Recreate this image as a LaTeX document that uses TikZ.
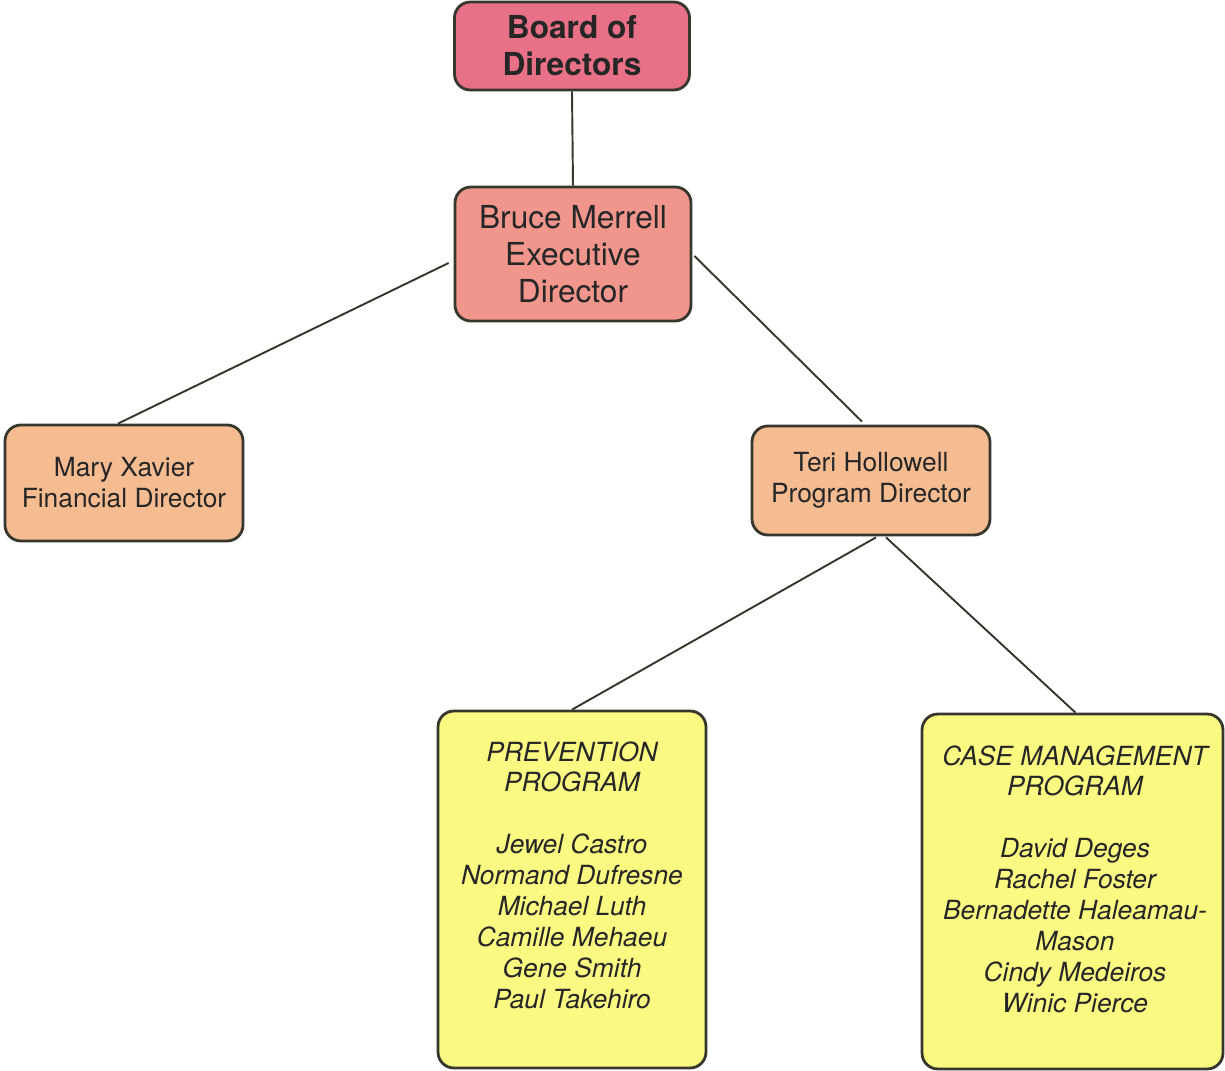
\documentclass[tikz,border=0pt]{standalone}
\usepackage{fontspec}
\setmainfont{TeX Gyre Heros}
\usetikzlibrary{calc}
\definecolor{boardc}{RGB}{232,112,135}
\definecolor{execc}{RGB}{240,150,140}
\definecolor{dirc}{RGB}{245,187,145}
\definecolor{progc}{RGB}{250,250,130}
\definecolor{edgec}{RGB}{55,55,45}
\tikzset{
  box/.style={draw=edgec, line width=1.6pt, rounded corners=9pt, inner sep=0pt, align=center, text=black!85},
  bigtext/.style={font=\fontsize{18}{21}\selectfont},
  midtext/.style={font=\fontsize{15}{17.6}\selectfont},
  progtext/.style={font=\fontsize{15}{17.6}\selectfont\itshape, align=center, inner sep=0pt, text=black!85},
  link/.style={draw=edgec, line width=1.1pt}
}
\begin{document}
\begin{tikzpicture}[x={(0.02cm,0)}, y={(0,-0.02cm)}]
\useasboundingbox (0,0) rectangle (1225,1071);
\node[box, bigtext, fill=boardc, minimum width=4.7cm, minimum height=1.76cm] (board) at (572,46) {\textbf{Board of}\\\textbf{Directors}};
\node[box, bigtext, fill=execc, minimum width=4.72cm, minimum height=2.68cm] (bruce) at (573,254) {Bruce Merrell\\Executive\\Director};
\node[box, midtext, fill=dirc, minimum width=4.76cm, minimum height=2.32cm] (mary) at (124,483) {Mary Xavier\\Financial Director};
\node[box, midtext, fill=dirc, minimum width=4.76cm, minimum height=2.18cm] (teri) at (871,480.5) {\raisebox{-0.16cm}{\begin{tabular}{@{}c@{}}Teri Hollowell\\Program Director\end{tabular}}};
\node[box, fill=progc, minimum width=5.36cm, minimum height=7.14cm] (prev) at (572,889.5) {};
\node[box, fill=progc, minimum width=6.02cm, minimum height=7.1cm] (case) at (1072.5,891.5) {};
\node[progtext, anchor=north] (prevtext) at (572,741) {PREVENTION\\PROGRAM\\[17.6pt]Jewel Castro\\Normand Dufresne\\Michael Luth\\Camille Mehaeu\\Gene Smith\\Paul Takehiro};
\node[progtext, anchor=north] (casetext) at (1075,745) {CASE MANAGEMENT\\PROGRAM\\[17.6pt]David Deges\\Rachel Foster\\Bernadette Haleamau-\\Mason\\Cindy Medeiros\\Winic Pierce};
\draw[link] (board.south) -- (bruce.north);
\draw[link] ($(bruce.west)+(-5,9)$) -- ($(mary.north)+(-6,0)$);
\draw[link] ($(bruce.east)+(2,2)$) -- ($(teri.north)+(-9,-3)$);
\draw[link] ($(teri.south)+(5,1)$) -- (prev.north);
\draw[link] ($(teri.south)+(15,1)$) -- ($(case.north)+(3,0)$);
\end{tikzpicture}
\end{document}
